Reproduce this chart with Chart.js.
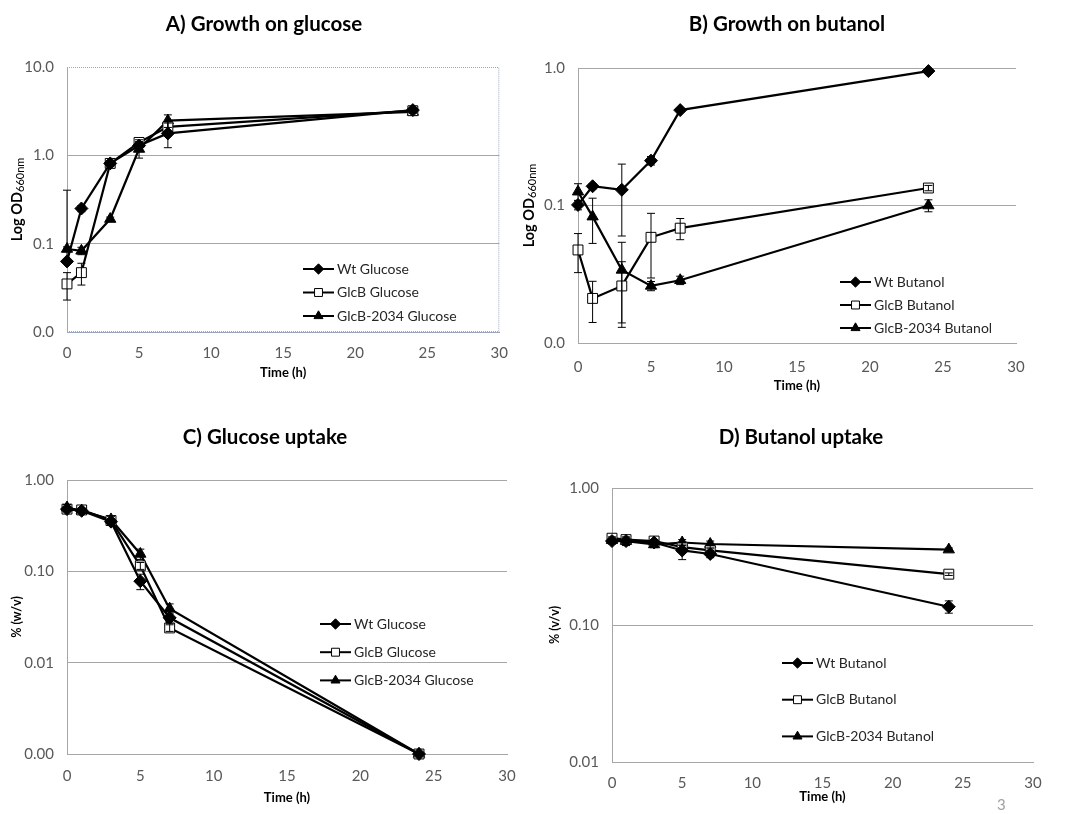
<!DOCTYPE html>
<html>
<head>
<meta charset="utf-8">
<script src="https://cdn.jsdelivr.net/npm/chart.js@4.4.1/dist/chart.umd.min.js"></script>
<style>
body { margin:0; background:#fff; width:1072px; height:814px; position:relative; overflow:hidden; font-family:Lato, sans-serif; }
.panel { position:absolute; }
#pageNo { position:absolute; left:997px; top:797px; font-size:15px; line-height:15px; color:#a0a0a0; }
</style>
</head>
<body>
<div class="panel" style="left:0;top:0;width:520px;height:400px"><canvas id="chartA"></canvas></div>
<div class="panel" style="left:520px;top:0;width:552px;height:400px"><canvas id="chartB"></canvas></div>
<div class="panel" style="left:0;top:400px;width:530px;height:414px"><canvas id="chartC"></canvas></div>
<div class="panel" style="left:520px;top:400px;width:552px;height:414px"><canvas id="chartD"></canvas></div>
<div id="pageNo">3</div>
<script>
const hours = [0, 1, 3, 5, 7, 24];

// A) growth on glucose (OD660)
const wtGlucoseOD = [0.063, 0.25, 0.81, 1.29, 1.77, 3.25];
const glcbGlucoseOD = [0.035, 0.047, 0.81, 1.40, 2.10, 3.20];
const glcb2034GlucoseOD = [0.087, 0.083, 0.19, 1.18, 2.47, 3.10];
const wtGlucoseODErr = [0.34, 0.02, 0.05, 0.1, 0.55, 0.2];
const glcbGlucoseODErr = [0.012, 0.013, 0.05, 0.1, 0.3, 0.15];
const glcb2034GlucoseODErr = [0.005, 0.008, 0.01, 0.25, 0.4, 0.1];

// B) growth on butanol (OD660)
const wtButanolOD = [0.101, 0.138, 0.130, 0.212, 0.494, 0.95];
const glcbButanolOD = [0.0475, 0.0211, 0.026, 0.0587, 0.0684, 0.134];
const glcb2034ButanolOD = [0.126, 0.083, 0.034, 0.026, 0.0286, 0.100];
const wtButanolODErr = [0.008, 0.006, 0.07, 0.015, 0.01, 0.02];
const glcbButanolODErr = [0.015, 0.007, 0.013, 0.029, 0.012, 0.006];
const glcb2034ButanolODErr = [0.018, 0.03, 0.02, 0.002, 0.002, 0.01];

// C) glucose uptake (% w/v)
const wtGlucoseUp = [0.48, 0.46, 0.35, 0.078, 0.031, 0.001];
const glcbGlucoseUp = [0.48, 0.47, 0.36, 0.115, 0.024, 0.001];
const glcb2034GlucoseUp = [0.50, 0.46, 0.37, 0.155, 0.039, 0.001];
const wtGlucoseUpErr = [0.03, 0.02, 0.02, 0.015, 0.004, 0];
const glcbGlucoseUpErr = [0.02, 0.02, 0.02, 0.01, 0.002, 0];
const glcb2034GlucoseUpErr = [0.04, 0.02, 0.03, 0.02, 0.005, 0];

// D) butanol uptake (% v/v)
const wtButanolUp = [0.41, 0.41, 0.40, 0.35, 0.33, 0.136];
const glcbButanolUp = [0.43, 0.42, 0.41, 0.37, 0.35, 0.235];
const glcb2034ButanolUp = [0.415, 0.41, 0.387, 0.40, 0.39, 0.355];
const wtButanolUpErr = [0.02, 0.03, 0.02, 0.05, 0.02, 0.014];
const glcbButanolUpErr = [0.01, 0.01, 0.01, 0.02, 0.01, 0.005];
const glcb2034ButanolUpErr = [0.01, 0.01, 0.02, 0.02, 0.02, 0.01];

const xTicks = [0, 5, 10, 15, 20, 25, 30];
const yTicksA = [0.01, 0.1, 1, 10];
const yLabelsA = ['0.0', '0.1', '1.0', '10.0'];
const yTicksB = [0.01, 0.1, 1];
const yLabelsB = ['0.0', '0.1', '1.0'];
const yTicksC = [0.001, 0.01, 0.1, 1];
const yLabelsC = ['0.00', '0.01', '0.10', '1.00'];
const yTicksD = [0.01, 0.1, 1];
const yLabelsD = ['0.01', '0.10', '1.00'];

const tickFont = {family: 'Lato', size: 15};
const tickColor = '#595959';
const gridColor = '#a6a6a6';

// panel heading, placed where the original has it
const panelTitlePlugin = {
	id: 'panelTitle',
	afterDraw(chart, args, opts) {
		const ctx = chart.ctx;
		ctx.save();
		ctx.font = 'bold 20.5px Lato';
		ctx.fillStyle = '#000';
		ctx.textAlign = 'center';
		ctx.textBaseline = 'middle';
		ctx.fillText(opts.text, opts.x, opts.y);
		ctx.restore();
	}
};

// error bars, drawn from each dataset's "errors" array
const errorBarPlugin = {
	id: 'errorBars',
	afterDatasetsDraw(chart) {
		const ctx = chart.ctx, xs = chart.scales.x, ys = chart.scales.y;
		ctx.save();
		ctx.strokeStyle = '#000';
		ctx.lineWidth = 1;
		chart.data.datasets.forEach(ds => {
			ds.data.forEach((p, i) => {
				const e = ds.errors[i];
				if (!e) return;
				const x = xs.getPixelForValue(p.x);
				const yTop = ys.getPixelForValue(p.y + e);
				const yBot = p.y - e > 0 ? ys.getPixelForValue(p.y - e) : ys.getPixelForValue(p.y);
				ctx.beginPath();
				ctx.moveTo(x, yTop); ctx.lineTo(x, yBot);
				ctx.moveTo(x - 4, yTop); ctx.lineTo(x + 4, yTop);
				if (p.y - e > 0) { ctx.moveTo(x - 4, yBot); ctx.lineTo(x + 4, yBot); }
				ctx.stroke();
			});
		});
		ctx.restore();
	}
};

// legend placed inside the plot, like the Excel originals
const insideLegendPlugin = {
	id: 'insideLegend',
	afterDraw(chart, args, opts) {
		const ctx = chart.ctx;
		ctx.save();
		chart.data.datasets.forEach((ds, i) => {
			const y = opts.y + i * opts.gap;
			ctx.strokeStyle = '#000';
			ctx.lineWidth = 2;
			ctx.beginPath(); ctx.moveTo(opts.x, y); ctx.lineTo(opts.x + 31, y); ctx.stroke();
			ctx.fillStyle = ds.pointBackgroundColor;
			ctx.lineWidth = 1;
			Chart.helpers.drawPoint(ctx, {pointStyle: ds.pointStyle, radius: ds.pointRadius * 0.8, borderWidth: 1}, opts.x + 15.5, y);
			ctx.fillStyle = '#262626';
			ctx.font = '14px Lato';
			ctx.textBaseline = 'middle';
			ctx.textAlign = 'left';
			ctx.fillText(ds.label, opts.x + 34, y);
		});
		ctx.restore();
	}
};

// rotated y title with optional subscript
const yTitlePlugin = {
	id: 'yTitle',
	afterDraw(chart, args, opts) {
		const {ctx, chartArea} = chart;
		ctx.save();
		ctx.translate(opts.x, (chartArea.top + chartArea.bottom) / 2);
		ctx.rotate(-Math.PI / 2);
		ctx.fillStyle = '#000';
		ctx.textBaseline = 'middle';
		ctx.textAlign = 'left';
		ctx.font = 'bold ' + opts.size + 'px Lato';
		const w1 = ctx.measureText(opts.text).width;
		let w2 = 0;
		if (opts.sub) {
			ctx.font = '11px Lato';
			w2 = ctx.measureText(opts.sub).width;
		}
		const start = -(w1 + w2) / 2;
		ctx.font = 'bold ' + opts.size + 'px Lato';
		ctx.fillText(opts.text, start, 0);
		if (opts.sub) {
			ctx.font = '11px Lato';
			ctx.fillText(opts.sub, start + w1, 3);
		}
		ctx.restore();
	}
};

// dotted plot frame (panel A only)
const framePlugin = {
	id: 'frame',
	beforeDatasetsDraw(chart, args, opts) {
		if (!opts.show) return;
		const {ctx, chartArea: a} = chart;
		ctx.save();
		ctx.strokeStyle = '#9ba7bf';
		ctx.lineWidth = 1;
		ctx.setLineDash([1, 1]);
		ctx.beginPath();
		ctx.moveTo(a.left, a.top + 0.5); ctx.lineTo(a.right - 0.5, a.top + 0.5);
		ctx.lineTo(a.right - 0.5, a.bottom);
		ctx.moveTo(a.left, a.bottom - 0.5); ctx.lineTo(a.right, a.bottom - 0.5);
		ctx.stroke();
		ctx.restore();
	}
};

function series(label, values, errors, style) {
	const open = style === 'rect';
	return {
		label: label,
		data: hours.map((h, i) => ({x: h, y: values[i]})),
		errors: errors,
		borderColor: '#000',
		borderWidth: 2.2,
		pointStyle: style,
		pointRadius: style === 'rect' ? 7 : 6.5,
		pointBackgroundColor: open ? '#fff' : '#000',
		pointBorderColor: '#000',
		pointBorderWidth: 1,
		clip: false,
		tension: 0
	};
}

function panel(id, p) {
	return new Chart(document.getElementById(id), {
		type: 'line',
		data: {datasets: p.datasets},
		options: {
			animation: false,
			responsive: true,
			maintainAspectRatio: false,
			devicePixelRatio: 1,
			layout: {padding: {left: 0, right: p.padRight, top: p.padTop, bottom: 0}},
			plugins: {
				legend: {display: false},
				tooltip: {enabled: false},
				panelTitle: p.title,
				insideLegend: p.legend,
				yTitle: p.yTitle,
				frame: {show: !!p.frame}
			},
			scales: {
				x: {
					type: 'linear',
					min: 0,
					max: 30,
					afterBuildTicks: s => { s.ticks = xTicks.map(v => ({value: v})); },
					afterFit: s => { s.height = p.xHeight; },
					grid: {display: false, drawTicks: false},
					border: {display: true, color: p.frame ? '#9ba7bf' : gridColor, dash: p.frame ? [1, 1] : []},
					ticks: {font: tickFont, color: tickColor, padding: p.xTickPad, maxRotation: 0},
					title: {
						display: true,
						text: 'Time (h)',
						color: '#000',
						font: {family: 'Lato', size: 13, weight: 'bold'},
						padding: {top: 0, bottom: p.xTitlePad}
					}
				},
				y: {
					type: 'logarithmic',
					min: p.yTicks[0],
					max: p.yTicks[p.yTicks.length - 1],
					afterBuildTicks: s => { s.ticks = p.yTicks.map(v => ({value: v})); },
					afterFit: s => { s.width = p.yWidth; },
					grid: {
						drawTicks: false,
						color: c => (p.frame && (c.index === 0 || c.index === p.yTicks.length - 1)) ? 'rgba(0,0,0,0)' : gridColor
					},
					border: {display: true, color: gridColor},
					ticks: {
						font: tickFont,
						color: tickColor,
						padding: 13,
						callback: (v, i) => p.yLabels[i]
					}
				}
			}
		},
		plugins: [framePlugin, errorBarPlugin, insideLegendPlugin, yTitlePlugin, panelTitlePlugin]
	});
}

panel('chartA', {
	title: {text: 'A) Growth on glucose', x: 264, y: 24},
	padTop: 67, padRight: 17, yWidth: 67, xHeight: 68, xTickPad: 12, xTitlePad: 19,
	yTicks: yTicksA, yLabels: yLabelsA, frame: true,
	legend: {x: 303, y: 269, gap: 23.5},
	yTitle: {x: 17, text: 'Log OD', sub: '660nm', size: 14.5},
	datasets: [
		series('Wt Glucose', wtGlucoseOD, wtGlucoseODErr, 'rectRot'),
		series('GlcB Glucose', glcbGlucoseOD, glcbGlucoseODErr, 'rect'),
		series('GlcB-2034 Glucose', glcb2034GlucoseOD, glcb2034GlucoseODErr, 'triangle')
	]
});

panel('chartB', {
	title: {text: 'B) Growth on butanol', x: 267, y: 24},
	padTop: 68, padRight: 56, yWidth: 58, xHeight: 57, xTickPad: 15, xTitlePad: 6,
	yTicks: yTicksB, yLabels: yLabelsB,
	legend: {x: 320, y: 282, gap: 23},
	yTitle: {x: 9, text: 'Log OD', sub: '660nm', size: 14.5},
	datasets: [
		series('Wt Butanol', wtButanolOD, wtButanolODErr, 'rectRot'),
		series('GlcB Butanol', glcbButanolOD, glcbButanolODErr, 'rect'),
		series('GlcB-2034 Butanol', glcb2034ButanolOD, glcb2034ButanolODErr, 'triangle')
	]
});

panel('chartC', {
	title: {text: 'C) Glucose uptake', x: 265, y: 37},
	padTop: 80, padRight: 23, yWidth: 67, xHeight: 60, xTickPad: 13, xTitlePad: 8,
	yTicks: yTicksC, yLabels: yLabelsC,
	legend: {x: 320, y: 224, gap: 28.2},
	yTitle: {x: 17, text: '% (w/v)', size: 12.5},
	datasets: [
		series('Wt Glucose', wtGlucoseUp, wtGlucoseUpErr, 'rectRot'),
		series('GlcB Glucose', glcbGlucoseUp, glcbGlucoseUpErr, 'rect'),
		series('GlcB-2034 Glucose', glcb2034GlucoseUp, glcb2034GlucoseUpErr, 'triangle')
	]
});

panel('chartD', {
	title: {text: 'D) Butanol uptake', x: 281, y: 37},
	padTop: 88, padRight: 39, yWidth: 92, xHeight: 52, xTickPad: 12, xTitlePad: 9,
	yTicks: yTicksD, yLabels: yLabelsD,
	legend: {x: 262, y: 263, gap: 36.7},
	yTitle: {x: 35, text: '% (v/v)', size: 12.5},
	datasets: [
		series('Wt Butanol', wtButanolUp, wtButanolUpErr, 'rectRot'),
		series('GlcB Butanol', glcbButanolUp, glcbButanolUpErr, 'rect'),
		series('GlcB-2034 Butanol', glcb2034ButanolUp, glcb2034ButanolUpErr, 'triangle')
	]
});
</script>
</body>
</html>
